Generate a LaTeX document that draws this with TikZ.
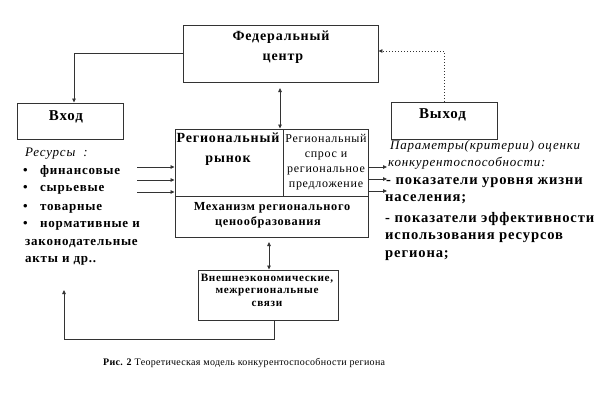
\documentclass[tikz,border=0pt]{standalone}
\usepackage{fontspec}
\setmainfont{Liberation Serif}
\newfontfamily\lsf[LetterSpace=6]{Liberation Serif}
\newfontfamily\csf[LetterSpace=3]{Liberation Serif}
\usetikzlibrary{arrows.meta}
\begin{document}
\begin{tikzpicture}[x=1pt,y=-1pt,
  box/.style={draw=black!80, line width=0.9pt, inner sep=0pt},
  tip/.style={-{Triangle[length=4pt,width=3.5pt]}},
  dtip/.style={{Triangle[length=4pt,width=3.5pt]}-{Triangle[length=4pt,width=3.5pt]}},
  con/.style={line width=0.8pt, draw=black!80},
  bt/.style={font=\lsf\bfseries\fontsize{14}{16}\selectfont, inner sep=0pt, anchor=base},
  bl/.style={font=\lsf\bfseries\fontsize{15}{17}\selectfont, inner sep=0pt, anchor=base},
  mt/.style={font=\lsf\bfseries\fontsize{12.3}{14}\selectfont, inner sep=0pt, anchor=base},
  et/.style={font=\lsf\bfseries\fontsize{11.2}{13}\selectfont, inner sep=0pt, anchor=base},
  nt/.style={font=\lsf\fontsize{12}{14}\selectfont, inner sep=0pt, anchor=base},
  it/.style={font=\lsf\itshape\fontsize{13}{15}\selectfont, inner sep=0pt, anchor=base west},
  lt/.style={font=\lsf\bfseries\fontsize{13}{15}\selectfont, inner sep=0pt, anchor=base west},
  rt/.style={font=\lsf\bfseries\fontsize{14.6}{16}\selectfont, inner sep=0pt, anchor=base west}
]
\useasboundingbox (0,0) rectangle (599,408);
\fill[white] (0,0) rectangle (599,408);
% boxes
\node[box, minimum width=195pt, minimum height=57pt] (fed) at (280.5,53.5) {};
\node[box, minimum width=106pt, minimum height=36pt] (vhod) at (70,121) {};
\node[box, minimum width=106pt, minimum height=37pt] (vyh) at (444,120.5) {};
\node[box, minimum width=193pt, minimum height=108pt] (main) at (271.5,183) {};
\node[box, minimum width=140pt, minimum height=50pt] (ext) at (268,295) {};
\draw[con] (175,196) -- (368,196);
\draw[con] (283,129) -- (283,196);
% box texts
\node[bt] (t1) at (281,40) {Федеральный};
\node[bt] (t2) at (283,60) {центр};
\node[bl] (t3) at (66,120) {Вход};
\node[bl] (t4) at (442.5,118) {Выход};
\node[bt] (t5) at (228,142) {Региональный};
\node[bt] (t6) at (228,162) {рынок};
\node[nt] (t7) at (326,142) {Региональный};
\node[nt] (t8) at (326,157) {спрос и};
\node[nt] (t9) at (326,172) {региональное};
\node[nt] (t10) at (326,187) {предложение};
\node[mt] (t11) at (272,210) {Механизм регионального};
\node[mt] (t12) at (268,225) {ценообразования};
\node[et] (t13) at (267,281) {Внешнеэкономические,};
\node[et] (t14) at (267,293.5) {межрегиональные};
\node[et] (t15) at (267,306) {связи};
% left list
\node[it] (l0) at (25,156) {Ресурсы\ \ :};
\node[lt] (b1) at (23,174) {•};
\node[lt] (l1) at (40,174) {финансовые};
\node[lt] (b2) at (23,191) {•};
\node[lt] (l2) at (40,191) {сырьевые};
\node[lt] (b3) at (23,210) {•};
\node[lt] (l3) at (40,210) {товарные};
\node[lt] (b4) at (23,227) {•};
\node[lt] (l4) at (40,227) {нормативные и};
\node[lt] (l5) at (25,245) {законодательные};
\node[lt] (l6) at (25,262) {акты и др..};
% right list
\node[it] (r0) at (390,149) {Параметры(критерии) оценки};
\node[it] (r1) at (388,166) {конкурентоспособности:};
\node[rt] (r2) at (386,184) {- показатели уровня жизни};
\node[rt] (r3) at (385,201) {населения;};
\node[rt] (r4) at (385,222) {- показатели эффективности};
\node[rt] (r5) at (385,239) {использования ресурсов};
\node[rt] (r6) at (385,257) {региона;};
% caption
\node[font=\csf\fontsize{10}{12}\selectfont, inner sep=0pt, anchor=base west] (cap) at (103,365) {\textbf{Рис. 2} Теоретическая модель конкурентоспособности региона};
% connectors
\draw[con,tip] (fed.west) -| ([xshift=4pt]vhod.north);
\draw[con,tip,dash pattern=on 1pt off 2pt] (vyh.north) |- ([yshift=2.5pt]fed.east);
\coordinate (a1) at (280,88);
\draw[con,dtip] (a1) -- (a1 |- main.north);
\coordinate (a2) at (269,242);
\draw[con,dtip] (a2) -- (a2 |- ext.north);
\foreach \y [count=\i] in {167,180,192} {
  \coordinate (li\i) at (137,\y);
  \draw[con,tip] (li\i) -- (li\i -| main.west);
}
\foreach \y [count=\i] in {167,179,191} {
  \coordinate (ri\i) at (387,\y);
  \draw[con,tip] (ri\i -| main.east) -- (ri\i);
}
\coordinate (fb) at (64,290);
\draw[con,tip] ([xshift=6pt]ext.south) -- ++(0,19) -| (fb);
\end{tikzpicture}
\end{document}
